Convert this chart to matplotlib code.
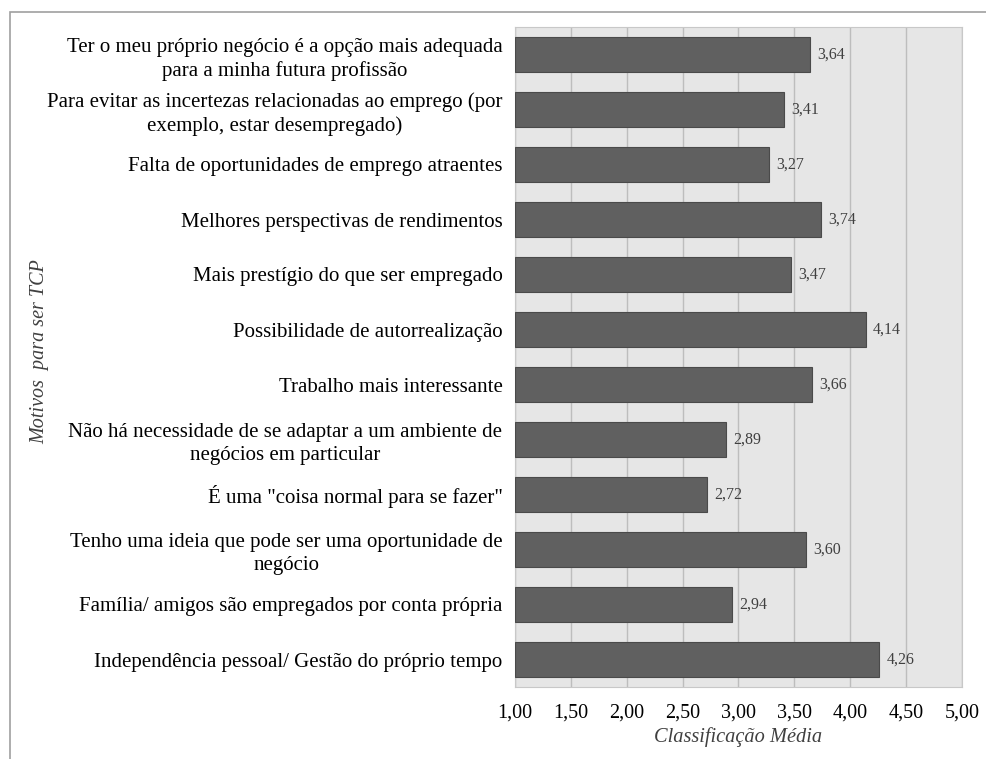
import matplotlib.pyplot as plt
import matplotlib.patches as patches

plt.rcParams['font.family'] = ['Liberation Serif', 'DejaVu Serif']

motivos = [
    "Ter o meu próprio negócio é a opção mais adequada\npara a minha futura profissão",
    "Para evitar as incertezas relacionadas ao emprego (por\nexemplo, estar desempregado)",
    "Falta de oportunidades de emprego atraentes",
    "Melhores perspectivas de rendimentos",
    "Mais prestígio do que ser empregado",
    "Possibilidade de autorrealização",
    "Trabalho mais interessante",
    "Não há necessidade de se adaptar a um ambiente de\nnegócios em particular",
    "É uma \"coisa normal para se fazer\"",
    "Tenho uma ideia que pode ser uma oportunidade de\nnegócio",
    "Família/ amigos são empregados por conta própria",
    "Independência pessoal/ Gestão do próprio tempo",
]
medias = [3.64, 3.41, 3.27, 3.74, 3.47, 4.14, 3.66, 2.89, 2.72, 3.60, 2.94, 4.26]
xticks = [1.0, 1.5, 2.0, 2.5, 3.0, 3.5, 4.0, 4.5, 5.0]

fig = plt.figure(figsize=(9.87, 7.59), dpi=100)
ax = fig.add_axes([515/987, 1 - 687/759, (962 - 515)/987, (687 - 27)/759])

# outer frame (left and top edges visible)
fig.patches.append(patches.Rectangle((10/987, -0.1), 1.2, (759 - 12)/759 + 0.1,
                                     transform=fig.transFigure, fill=False,
                                     edgecolor='#a0a0a0', linewidth=1.2))

ax.set_facecolor('#e6e6e6')
pos = list(range(len(motivos)))
ax.barh(pos, [m - 1 for m in medias], left=1, height=0.65,
        color='#606060', edgecolor='#4a4a4a', linewidth=0.8, zorder=3)
for p, m in zip(pos, medias):
    ax.text(m + 0.065, p, f"{m:.2f}".replace('.', ','), va='center', ha='left',
            fontsize=11.5, color='#404040', zorder=4)

ax.set_xlim(1, 5)
ax.set_ylim(len(motivos) - 0.5, -0.5)
ax.set_xticks(xticks)
ax.set_xticklabels([f"{t:.2f}".replace('.', ',') for t in xticks], fontsize=14.5)
ax.set_yticks(pos)
ax.set_yticklabels(motivos, fontsize=15, multialignment='center', linespacing=1.3)
ax.tick_params(axis='both', length=0)
ax.tick_params(axis='x', pad=12)
ax.tick_params(axis='y', pad=9)
ax.grid(axis='x', color='#bdbdbd', linewidth=1, zorder=0)
for s in ax.spines.values():
    s.set_color('#c8c8c8')

ax.set_xlabel("Classificação Média", fontsize=14.7, style='italic', color='#404040', labelpad=3)
fig.text(40/987, 1 - 352/759, "Motivos  para ser TCP", rotation=90, fontsize=14.5,
         style='italic', color='#404040', ha='center', va='center')

fig.savefig('out.png', dpi=100)
